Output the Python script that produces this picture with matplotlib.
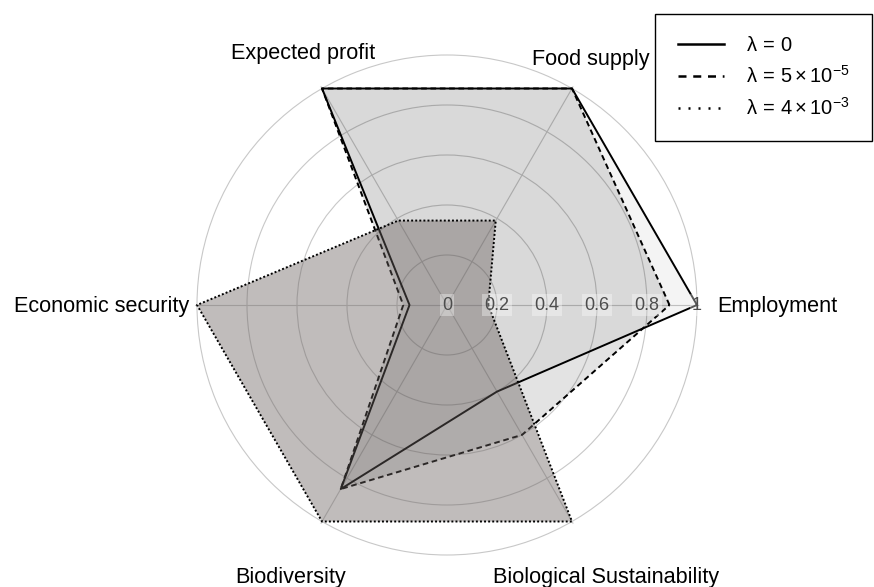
import numpy as np
import matplotlib.pyplot as plt

plt.rcParams['font.family'] = ['Liberation Sans', 'DejaVu Sans']
plt.rcParams['mathtext.fontset'] = 'custom'
plt.rcParams['mathtext.rm'] = 'Liberation Sans'
plt.rcParams['mathtext.it'] = 'Liberation Sans'
plt.rcParams['mathtext.bf'] = 'Liberation Sans:bold'

# data
categories = ['Employment', 'Food supply', 'Expected profit',
              'Economic security', 'Biodiversity', 'Biological Sustainability']
lam_0 = [1.0, 1.0, 1.0, 0.15, 0.85, 0.40]
lam_5e5 = [0.89, 1.0, 1.0, 0.175, 0.85, 0.60]
lam_4e3 = [0.165, 0.39, 0.39, 1.0, 1.0, 1.0]
series_labels = [r'$\lambda\,=\,0$', r'$\lambda\,=\,5\times10^{-5}$',
                 r'$\lambda\,=\,4\times10^{-3}$']
rticks = [0, 0.2, 0.4, 0.6, 0.8, 1.0]
rtick_labels = ['0', '0.2', '0.4', '0.6', '0.8', '1']

W, H = 874, 587
cx, cy, R = 447, 305, 250   # centre / unit radius, pixels
rmax = 1.01

fig = plt.figure(figsize=(W / 100, H / 100), dpi=100)
rad = R * rmax
ax = fig.add_axes([(cx - rad) / W, (H - cy - rad) / H, 2 * rad / W, 2 * rad / H],
                  projection='polar')
ax.set_ylim(0, rmax)
angles = np.deg2rad(np.arange(len(categories)) * 360 / len(categories))
ax.set_thetagrids(np.degrees(angles), [''] * len(categories))
ax.set_rgrids(rticks[1:], [''] * (len(rticks) - 1))
ax.grid(color='#c8c8c8', lw=0.8)
ax.spines['polar'].set_visible(False)

styles = [
    dict(ls='-', fc='black', alpha=0.045),
    dict(ls=(0, (2.9, 1.9)), fc='black', alpha=0.11),
    dict(ls=(0, (1, 1.1)), fc='#69605e', alpha=0.42),
]
a = np.r_[angles, angles[:1]]
for i, (vals, lab, st) in enumerate(zip([lam_0, lam_5e5, lam_4e3], series_labels, styles)):
    v = np.r_[vals, vals[:1]]
    ax.fill(a, v, color=st['fc'], alpha=st['alpha'], lw=0, zorder=3 + 2 * i)
    ax.plot(a, v, ls=st['ls'], color='black', lw=1.4, label=lab,
            zorder=4 + 2 * i, clip_on=False)

for r, lab in zip(rticks, rtick_labels):
    ax.text(0, r, lab, ha='center', va='center', fontsize=13, color='#4d4d4d',
            bbox=dict(boxstyle='square,pad=0.12', fc='white', ec='none', alpha=0.35),
            zorder=12)

# category labels (pixel layout)
lab_pos = {
    'Employment': (717, 312, 'left'),
    'Food supply': (532, 65, 'left'),
    'Expected profit': (231, 59, 'left'),
    'Economic security': (189, 312, 'right'),
    'Biodiversity': (235, 583, 'left'),
    'Biological Sustainability': (493, 583, 'left'),
}
for name in categories:
    x, y, ha = lab_pos[name]
    fig.text(x / W, 1 - y / H, name, ha=ha, va='baseline', fontsize=15.6, color='black')

leg = fig.legend(loc='upper right', bbox_to_anchor=(872 / W, 1 - 14 / H),
                 borderaxespad=0, fontsize=14.5, handlelength=2.3, handletextpad=1.1,
                 borderpad=1.1, labelspacing=0.5, fancybox=False, framealpha=1,
                 edgecolor='black')
leg.get_frame().set_linewidth(1.0)
leg_dashes = [None, (0, (3.2, 2.7)), (0, (0.8, 3.2))]
for ln, d in zip(leg.get_lines(), leg_dashes):
    ln.set_linewidth(1.8)
    if d is not None:
        ln.set_linestyle(d)

fig.savefig('out.png', dpi=100)
